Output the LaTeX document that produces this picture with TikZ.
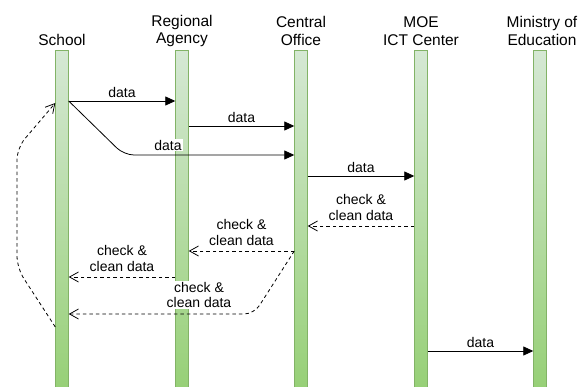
\documentclass[tikz,border=0pt]{standalone}
\usepackage{fontspec}
\setmainfont{Liberation Sans}
\usetikzlibrary{arrows.meta,positioning}

\definecolor{barlight}{HTML}{D5E8D4}
\definecolor{bardark}{HTML}{97D077}
\definecolor{barborder}{HTML}{82B366}

\tikzset{
  bar/.style={draw=barborder, top color=barlight, bottom color=bardark,
    minimum width=13pt, minimum height=337pt, inner sep=0pt},
  head/.style={align=center, font=\fontsize{15.5}{17.5}\selectfont},
  lbl/.style={fill=white, inner sep=1pt, align=center,
    font=\fontsize{14}{15.5}\selectfont},
  msg/.style={-{Triangle[length=10pt,width=9pt]}, line width=0.8pt},
  reply/.style={-{Straight Barb[length=9pt,width=10pt]}, line width=0.8pt,
    dash pattern=on 3.5pt off 3pt}
}

\begin{document}
\begin{tikzpicture}[x=1pt,y=-1pt]
  \useasboundingbox (0,0) rectangle (578,387);

  % lifelines
  \node[bar] (school)   at (62,219)  {};
  \node[bar] (regional) at (182,219) {};
  \node[bar] (central)  at (301,219) {};
  \node[bar] (moe)      at (421,219) {};
  \node[bar] (ministry) at (540,219) {};

  \node[head] (schoolT)   at (62,40)  {School};
  \node[head] (regionalT) at (182,31) {Regional\\Agency};
  \node[head] (centralT)  at (301,31) {Central\\Office};
  \node[head] (moeT)      at (421,31) {MOE\\ICT Center};
  \node[head] (ministryT) at (542,31) {Ministry of\\Education};

  % data going up
  \draw[msg] (school.east |- 0,101) -- node[lbl,above=1.5pt] {data} (regional.west |- 0,101);
  \draw[msg] (regional.east |- 0,126) -- node[lbl,above=1.5pt] {data} (central.west |- 0,126);
  \draw[msg,rounded corners=10pt] (school.east |- 0,101) -- (124,155) -- (central.west |- 0,155);
  \node[lbl] (skipT) at (168,145) {data};
  \draw[msg] (central.east |- 0,176) -- node[lbl,above=1.5pt] {data} (moe.west |- 0,176);

  % checked data coming back
  \draw[reply] (moe.west |- 0,226) -- node[lbl,above=4pt] {check \&\\clean data} (central.east |- 0,226);
  \draw[reply] (central.west |- 0,251) -- node[lbl,above=4pt] {check \&\\clean data} (regional.east |- 0,251);
  \draw[reply] (regional.west |- 0,277) -- node[lbl,above=4pt] {check \&\\clean data} (school.east |- 0,277);
  \draw[reply,rounded corners=10pt] (central.west |- 0,251) -- (254,314) -- (school.east |- 0,314);
  \node[lbl] (backT) at (199,295) {check \&\\clean data};

  % loop back into the school
  \draw[reply,rounded corners=12pt] (school.west |- 0,327) -- (17,268) -- (17,148) -- (school.west |- 0,103);

  \draw[msg] (moe.east |- 0,351) -- node[lbl,above=1.5pt] {data} (ministry.west |- 0,351);
\end{tikzpicture}
\end{document}
